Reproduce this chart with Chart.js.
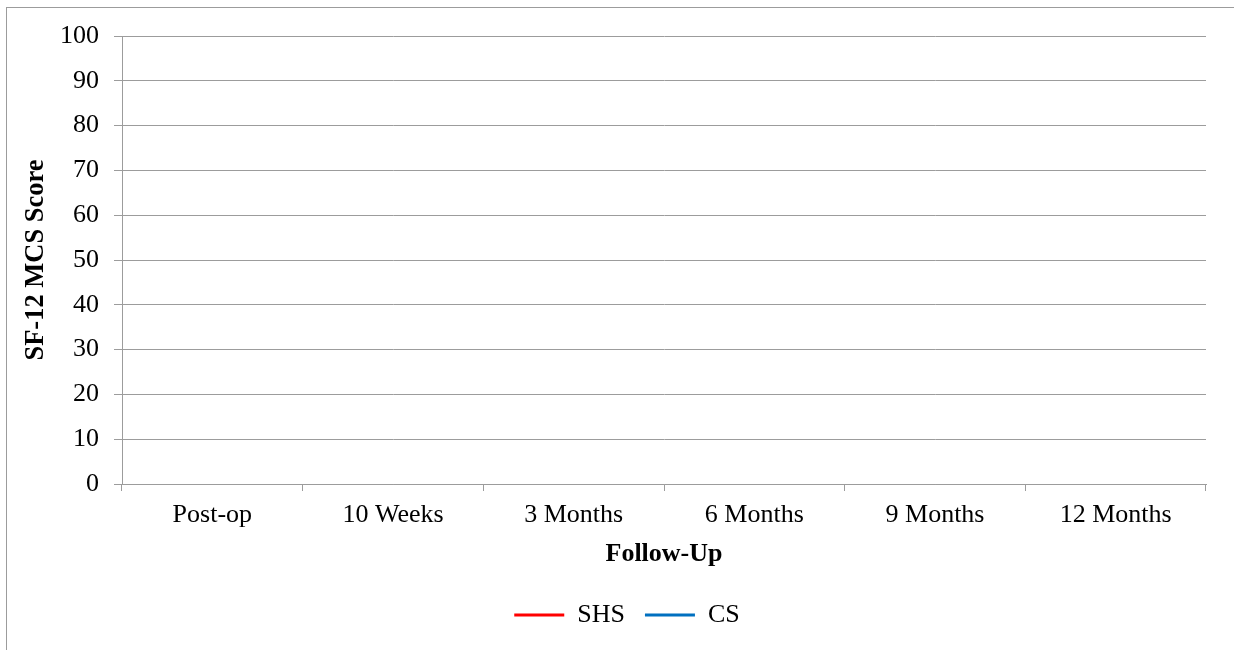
<!DOCTYPE html>
<html>
<head>
<meta charset="utf-8">
<script src="https://cdn.jsdelivr.net/npm/chart.js@4/dist/chart.umd.min.js"></script>
<style>
  html, body { margin: 0; padding: 0; background: #fff; overflow: hidden; width: 1234px; height: 650px; }
  #box { position: absolute; left: 6px; top: 7px; width: 1240px; height: 660px; border: 1px solid #9c9c9c; }
  #mcsChart { display: block; }
</style>
</head>
<body>
<div id="box"><canvas id="mcsChart" width="1240" height="660"></canvas></div>
<script>
// follow-up points and plotted series (no values are shown in the source figure)
const followUp = ["Post-op", "10 Weeks", "3 Months", "6 Months", "9 Months", "12 Months"];
const shsScores = [null, null, null, null, null, null];
const csScores = [null, null, null, null, null, null];
const yTicks = [0, 10, 20, 30, 40, 50, 60, 70, 80, 90, 100];

const serif = "'Liberation Serif', 'Times New Roman', serif";
const gridGrey = '#9c9c9c';

// center the legend on the whole chart box, not just the padded area
const wideLegend = {
  id: 'wideLegend',
  afterLayout(chart) {
    const lg = chart.legend;
    if (!lg) return;
    lg.left = 0;
    lg.right = chart.width;
    lg.width = chart.width;
  }
};

const initChart = () => {
  const ctx = document.getElementById("mcsChart");
  if (!ctx) return;

  new Chart(ctx, {
    type: 'line',
    data: {
      labels: followUp,
      datasets: [
        {
          label: "SHS",
          data: shsScores,
          borderColor: '#ff0000',
          backgroundColor: '#ff0000',
          borderWidth: 3,
          pointRadius: 0
        },
        {
          label: "CS",
          data: csScores,
          borderColor: '#0070c0',
          backgroundColor: '#0070c0',
          borderWidth: 3,
          pointRadius: 0
        }
      ]
    },
    plugins: [wideLegend],
    options: {
      responsive: false,
      animation: false,
      layout: { padding: { top: 28, right: 41, bottom: 30, left: 0 } },
      plugins: {
        tooltip: { enabled: false },
        legend: {
          position: 'bottom',
          labels: {
            color: '#000',
            font: { family: serif, size: 26 },
            boxWidth: 50,
            boxHeight: 3,
            padding: 20,
            generateLabels: (chart) => chart.data.datasets.map((ds, i) => ({
              text: ds.label,
              fillStyle: ds.borderColor,
              strokeStyle: ds.borderColor,
              lineWidth: 0,
              fontColor: '#000',
              hidden: false,
              datasetIndex: i
            }))
          }
        }
      },
      scales: {
        x: {
          offset: true,
          grid: {
            offset: true,
            drawOnChartArea: false,
            drawTicks: true,
            tickLength: 7,
            color: gridGrey
          },
          border: { color: gridGrey },
          ticks: {
            color: '#000',
            padding: 9,
            maxRotation: 0,
            font: { family: serif, size: 26 }
          },
          title: {
            display: true,
            text: 'Follow-Up',
            color: '#000',
            font: { family: serif, size: 26, weight: 'bold' },
            padding: { top: -2, bottom: 12.6 }
          }
        },
        y: {
          min: 0,
          max: 100,
          afterFit: (scale) => { scale.width = 115; },
          afterBuildTicks: (scale) => { scale.ticks = yTicks.map(v => ({ value: v })); },
          grid: { color: gridGrey, tickLength: 8 },
          border: { color: gridGrey },
          ticks: {
            color: '#000',
            padding: 15,
            font: { family: serif, size: 26, lineHeight: 1 }
          },
          title: {
            display: true,
            text: 'SF-12 MCS Score',
            color: '#000',
            font: { family: serif, size: 26.5, weight: 'bold' },
            padding: { top: 13, bottom: 0 }
          }
        }
      }
    }
  });
};

initChart();
</script>
</body>
</html>
